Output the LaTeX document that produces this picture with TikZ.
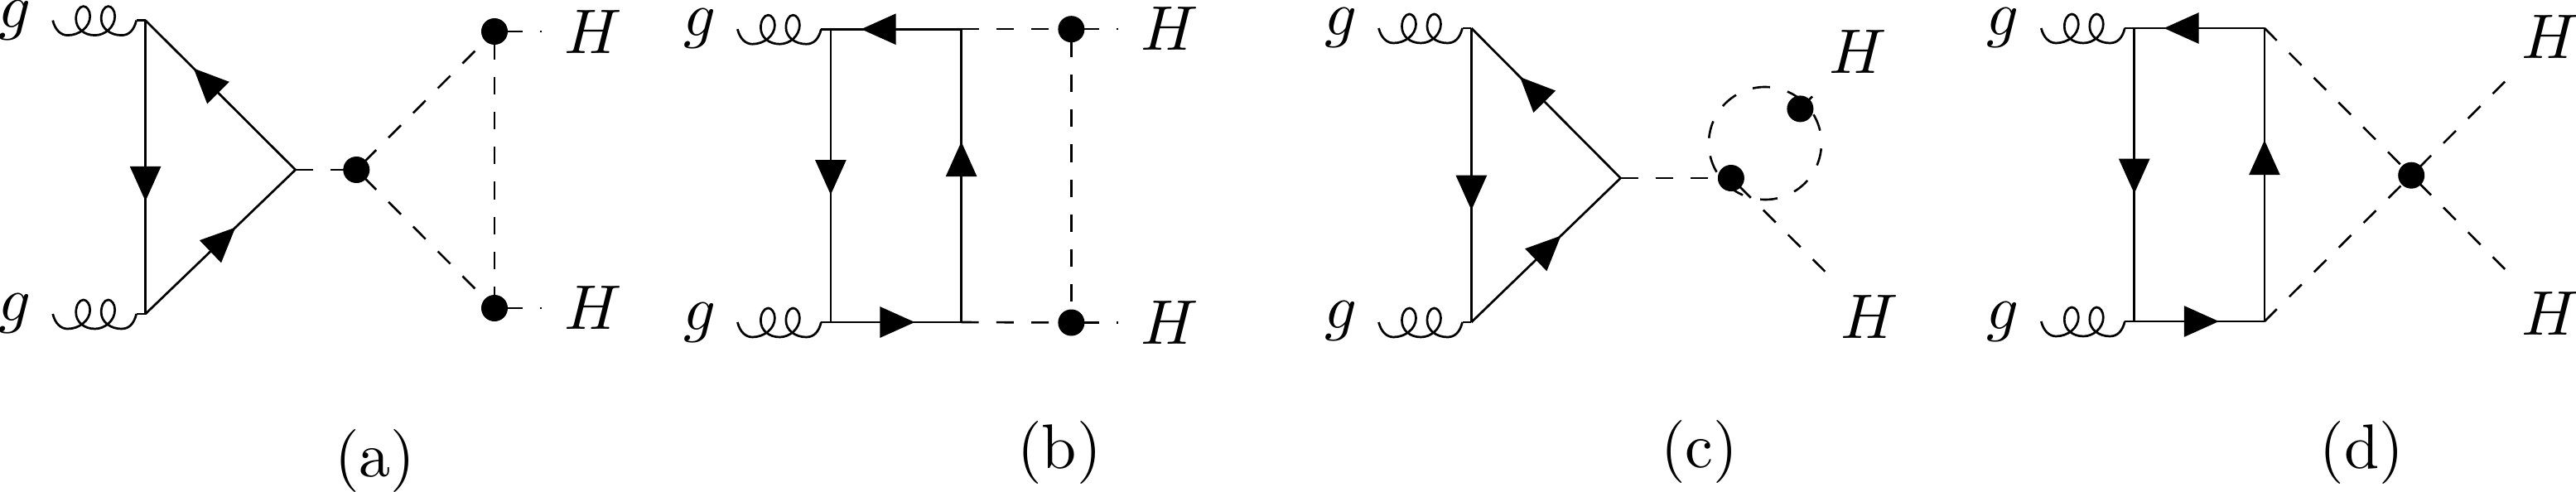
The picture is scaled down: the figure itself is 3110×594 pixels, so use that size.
\documentclass[tikz,border=0pt]{standalone}
\usetikzlibrary{arrows.meta,decorations.markings}
\tikzset{
  solidline/.style={line width=2.7pt},
  fermion/.style={line width=2.7pt,postaction={decorate},decoration={markings,mark=at position #1 with {\arrow{Triangle[length=42pt,width=37pt]}}}},
  scalarin/.style={line width=2.6pt,dash pattern=on 21pt off 21.2pt},
  scalarout/.style={line width=2.6pt,dash pattern=on 21.2pt off 21pt,dash phase=29.6pt},
  loopdash/.style={line width=2.6pt,dash pattern=on 21pt off 21.73pt},
  vertexdot/.style={circle,fill=black,inner sep=0pt,minimum size=32pt},
  lab/.style={inner sep=0pt,scale=7.6},
  gluon/.pic={
    \draw[line width=2.7pt] (0,0) .. controls (3,12) and (10,18) .. (18,18)
      .. controls (32,18) and (45,8) .. (45,-5)
      .. controls (45,-12) and (41,-17) .. (37,-17)
      .. controls (32,-17) and (28,-10) .. (28,-2)
      .. controls (28,10) and (38,18) .. (51,18)
      .. controls (63,18) and (75,8) .. (75,-5)
      .. controls (75,-12) and (71,-17) .. (67,-17)
      .. controls (62,-17) and (58.5,-10) .. (58.5,-2)
      .. controls (58.5,10) and (70,18) .. (83,18)
      .. controls (92,18) and (98,12) .. (101,0);
    \coordinate (-end) at (101,0);
  }
}
\begin{document}
\begin{tikzpicture}[x=1pt,y=-1pt]
\useasboundingbox (0,0) rectangle (3110,594);
% ---------- (a)
\coordinate (a1) at (175.6,24.6);
\coordinate (a2) at (175.6,379);
\coordinate (a3) at (356.7,205);
\node[vertexdot] (a4) at (430.3,205) {};
\node[vertexdot] (a5) at (597,38) {};
\node[vertexdot] (a6) at (597,372) {};
\coordinate (a7) at (654,38);
\coordinate (a8) at (654,372);
\pic (ga1) at (63.7,24.6) {gluon};
\pic (ga2) at (63.7,379) {gluon};
\draw[solidline] (ga1-end) -- (a1);
\draw[solidline] (ga2-end) -- (a2);
\draw[fermion=0.616] (a1) -- (a2);
\draw[fermion=0.679] (a3) -- (a1);
\draw[fermion=0.6] (a2) -- (a3);
\draw[scalarin] (a3) -- (a4.center);
\draw[scalarout] (a4.center) -- (a5.center);
\draw[scalarout] (a4.center) -- (a6.center);
\draw[scalarout] (a5.center) -- (a6.center);
\draw[scalarout] (a5.center) -- (a7);
\draw[scalarout] (a6.center) -- (a8);
\node[lab] (tga1) at (18.4,24.2) {$g$};
\node[lab] (tga2) at (18.4,379) {$g$};
\node[lab] (tha1) at (716.4,38.6) {$H$};
\node[lab] (tha2) at (716.4,372) {$H$};
\node[lab] (ca) at (452.7,556) {(a)};
% ---------- (b)
\coordinate (b1) at (1002.9,35.2);
\coordinate (b2) at (1002.9,389);
\coordinate (b3) at (1160.6,35.2);
\coordinate (b4) at (1160.6,389);
\node[vertexdot] (b5) at (1293.4,35.2) {};
\node[vertexdot] (b6) at (1293.4,389.5) {};
\coordinate (b7) at (1350.4,35.2);
\coordinate (b8) at (1350.4,389.5);
\pic (gb1) at (890.4,35.2) {gluon};
\pic (gb2) at (890.4,389) {gluon};
\draw[solidline] (gb1-end) -- (b1);
\draw[solidline] (gb2-end) -- (b2);
\draw[fermion=0.767] (b3) -- (b1);
\draw[fermion=0.644] (b2) -- (b4);
\draw[fermion=0.565] (b1) -- (b2);
\draw[fermion=0.616] (b4) -- (b3);
\draw[scalarin] (b3) -- (b5.center);
\draw[scalarin] (b4) -- (b6.center);
\draw[scalarout] (b5.center) -- (b6.center);
\draw[scalarout] (b5.center) -- (b7);
\draw[scalarout] (b6.center) -- (b8);
\node[lab] (tgb1) at (844.7,34.5) {$g$};
\node[lab] (tgb2) at (844.7,389.5) {$g$};
\node[lab] (thb1) at (1411.8,35) {$H$};
\node[lab] (thb2) at (1411.8,389.5) {$H$};
\node[lab] (cb) at (1279,546.6) {(b)};
% ---------- (c)
\coordinate (c1) at (1776.4,34);
\coordinate (c2) at (1776.4,389);
\coordinate (c3) at (1956.5,215);
\node[vertexdot] (c4) at (2089.9,215) {};
\node[vertexdot] (c5) at (2173.4,131.4) {};
\coordinate (c6) at (2203.3,327.7);
\coordinate (c7) at (2190.8,113.6);
\coordinate (cc) at (2131,173);
\pic (gc1) at (1664.5,34) {gluon};
\pic (gc2) at (1664.5,389) {gluon};
\draw[solidline] (gc1-end) -- (c1);
\draw[solidline] (gc2-end) -- (c2);
\draw[fermion=0.619] (c1) -- (c2);
\draw[fermion=0.674] (c3) -- (c1);
\draw[fermion=0.6] (c2) -- (c3);
\draw[scalarin] (c3) -- (c4.center);
\draw[scalarout] (c4.center) -- (c6);
\draw[scalarin] (c5.center) -- (c7);
\draw[loopdash,y=1pt] (cc) ++(121:68) arc[start angle=121,delta angle=360,radius=68];
\node[lab] (tgc1) at (1618.7,34) {$g$};
\node[lab] (tgc2) at (1618.7,388) {$g$};
\node[lab] (thc1) at (2243,62.5) {$H$};
\node[lab] (thc2) at (2257.5,382.6) {$H$};
\node[lab] (cc0) at (2051.5,545.5) {(c)};
% ---------- (d)
\coordinate (d1) at (2576.7,34);
\coordinate (d2) at (2576.7,388);
\coordinate (d3) at (2733.9,34);
\coordinate (d4) at (2733.9,388);
\node[vertexdot] (d5) at (2911.2,211.7) {};
\coordinate (d6) at (3024.2,98.5);
\coordinate (d7) at (3024.2,325);
\pic (gd1) at (2464.3,34) {gluon};
\pic (gd2) at (2464.3,388) {gluon};
\draw[solidline] (gd1-end) -- (d1);
\draw[solidline] (gd2-end) -- (d2);
\draw[fermion=0.772] (d3) -- (d1);
\draw[fermion=0.65] (d2) -- (d4);
\draw[fermion=0.564] (d1) -- (d2);
\draw[fermion=0.618] (d4) -- (d3);
\draw[scalarin] (d3) -- (d5.center);
\draw[scalarin] (d4) -- (d5.center);
\draw[scalarout] (d5.center) -- (d6);
\draw[scalarout] (d5.center) -- (d7);
\node[lab] (tgd1) at (2417.6,34) {$g$};
\node[lab] (tgd2) at (2417.6,388.6) {$g$};
\node[lab] (thd1) at (3078.7,44.7) {$H$};
\node[lab] (thd2) at (3078.7,379) {$H$};
\node[lab] (cd) at (2851.3,546) {(d)};
\end{tikzpicture}
\end{document}
